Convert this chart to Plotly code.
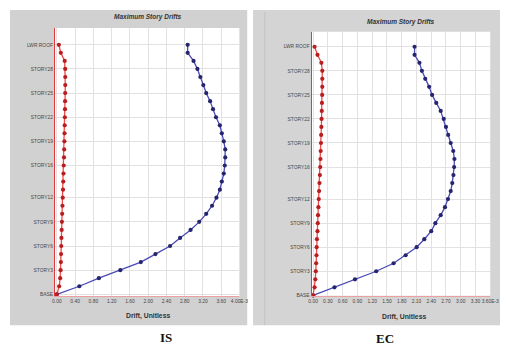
import plotly.graph_objects as go

# ---------------- data ----------------
story_level = list(range(32))  # 0 = base ... 31 = lower roof
tick_levels = [0, 3, 6, 9, 12, 16, 19, 22, 25, 28, 31]
tick_names = ["BASE", "STORY3", "STORY6", "STORY9", "STORY12", "STORY16",
              "STORY19", "STORY22", "STORY25", "STORY28", "LWR ROOF"]

# drifts, in units of 1e-3
is_drift_x = [0, 0.492, 0.920, 1.390, 1.840, 2.160, 2.481, 2.700, 2.930, 3.120,
              3.273, 3.401, 3.497, 3.572, 3.615, 3.658, 3.679, 3.690, 3.690, 3.658,
              3.615, 3.572, 3.487, 3.422, 3.358, 3.273, 3.209, 3.144, 3.080, 2.995,
              2.866, 2.866]
is_drift_y = [0, 0.050, 0.072, 0.082, 0.088, 0.092, 0.096, 0.100, 0.105, 0.110,
              0.116, 0.122, 0.128, 0.134, 0.140, 0.145, 0.150, 0.156, 0.160, 0.165,
              0.168, 0.172, 0.175, 0.178, 0.180, 0.182, 0.184, 0.184, 0.182, 0.171,
              0.086, 0.043]
ec_drift_x = [0, 0.434, 0.851, 1.283, 1.636, 1.881, 2.104, 2.260, 2.400, 2.485,
              2.593, 2.680, 2.741, 2.797, 2.828, 2.852, 2.866, 2.872, 2.848, 2.797,
              2.745, 2.700, 2.655, 2.593, 2.503, 2.418, 2.358, 2.279, 2.211, 2.161,
              2.062, 2.062]
ec_drift_y = [0, 0.030, 0.045, 0.055, 0.062, 0.069, 0.072, 0.078, 0.089, 0.095,
              0.100, 0.108, 0.115, 0.122, 0.130, 0.138, 0.145, 0.150, 0.155, 0.160,
              0.164, 0.168, 0.172, 0.176, 0.180, 0.184, 0.187, 0.187, 0.187, 0.168,
              0.089, 0.030]

is_xticks = [0, 0.4, 0.8, 1.2, 1.6, 2.0, 2.4, 2.8, 3.2, 3.6, 4.0]
is_xlabels = ["0.00", "0.40", "0.80", "1.20", "1.60", "2.00", "2.40", "2.80",
              "3.20", "3.60", "4.00E-3"]
ec_xticks = [0, 0.3, 0.6, 0.9, 1.2, 1.5, 1.8, 2.1, 2.4, 2.7, 3.0, 3.3, 3.6]
ec_xlabels = ["0.00", "0.30", "0.60", "0.90", "1.20", "1.50", "1.80", "2.10",
              "2.40", "2.70", "3.00", "3.30", "3.60E-3"]

# ---------------- figure ----------------
OFF = 8                     # page body margin
W, H = 509 - OFF, 349 - OFF
def px(x):
    return (x - OFF) / W
def py(y):
    return 1 - (y - OFF) / H

BLUE_L, BLUE_M = "#4a4ab8", "#25256e"
RED_L, RED_M = "#ee4a4a", "#b81e1e"

fig = go.Figure()
for drift, col_l, col_m, xa, ya in [
    (is_drift_x, BLUE_L, BLUE_M, "x", "y"),
    (is_drift_y, RED_L, RED_M, "x", "y"),
    (ec_drift_x, BLUE_L, BLUE_M, "x2", "y2"),
    (ec_drift_y, RED_L, RED_M, "x2", "y2"),
]:
    fig.add_trace(go.Scatter(
        x=drift, y=story_level, mode="lines+markers", xaxis=xa, yaxis=ya,
        line=dict(color=col_l, width=1.3),
        marker=dict(color=col_m, size=4.2, line=dict(width=0)),
        showlegend=False, cliponaxis=False))

tickfont = dict(family="Liberation Sans", size=4.9, color="#444444")
grid = "#e2e2e2"

common_x = dict(showgrid=True, gridcolor=grid, gridwidth=1, zeroline=False,
                showline=True, linecolor="#eaa0a0", linewidth=1, ticks="",
                tickfont=tickfont, tickangle=0, fixedrange=True)
common_y = dict(showgrid=True, gridcolor=grid, gridwidth=1, zeroline=False,
                showline=True, linecolor="#e23a3a", linewidth=1, ticks="",
                tickfont=tickfont, fixedrange=True)

fig.update_layout(
    width=W, height=H, margin=dict(l=0, r=0, t=0, b=0),
    paper_bgcolor="white", plot_bgcolor="rgba(0,0,0,0)",
    xaxis=dict(domain=[px(53), px(242)], range=[-0.043, 4.0], tickvals=is_xticks,
               ticktext=is_xlabels, anchor="y", **common_x),
    yaxis=dict(domain=[py(298), py(28)], range=[-0.247, 33.1], tickvals=tick_levels,
               ticktext=tick_names, anchor="x", **common_y),
    xaxis2=dict(domain=[px(316), px(499)], range=[-0.03, 3.6], tickvals=ec_xticks,
                ticktext=ec_xlabels, anchor="y2", **common_x),
    yaxis2=dict(domain=[py(297.5), py(32)], range=[-0.06, 32.86], tickvals=tick_levels,
                ticktext=tick_names, anchor="x2", **common_y),
)

shapes = [
    dict(type="rect", xref="paper", yref="paper", x0=px(7), x1=px(250), y0=py(327), y1=py(10),
         fillcolor="#d1d1d1", line=dict(width=0), layer="below"),
    dict(type="rect", xref="paper", yref="paper", x0=px(256), x1=px(509), y0=py(327), y1=py(10),
         fillcolor="#d4d4d4", line=dict(width=0), layer="below"),
    dict(type="line", xref="paper", yref="paper", x0=px(268), x1=px(268), y0=py(327), y1=py(12),
         line=dict(color="#c2c2c2", width=1), layer="below"),
    dict(type="rect", xref="paper", yref="paper", x0=px(53), x1=px(242), y0=py(298), y1=py(28),
         fillcolor="white", line=dict(width=0), layer="below"),
    dict(type="rect", xref="paper", yref="paper", x0=px(316), x1=px(499), y0=py(297.5), y1=py(32),
         fillcolor="white", line=dict(width=0), layer="below"),
]
fig.update_layout(shapes=shapes)

title_font = dict(family="Liberation Sans", size=6.5, color="#333333")
ann = [
    dict(x=px(148), y=py(17), text="<b><i>Maximum Story Drifts</i></b>", font=title_font),
    dict(x=px(408), y=py(22), text="<b><i>Maximum Story Drifts</i></b>", font=title_font),
    dict(x=px(148), y=py(318), text="<b>Drift, Unitless</b>",
         font=dict(family="Liberation Sans", size=6.8, color="#333333")),
    dict(x=px(411), y=py(319), text="<b>Drift, Unitless</b>",
         font=dict(family="Liberation Sans", size=6.8, color="#333333")),
    dict(x=px(167), y=py(339), text="<b>IS</b>",
         font=dict(family="Liberation Serif", size=13, color="#111111")),
    dict(x=px(391), y=py(340), text="<b>EC</b>",
         font=dict(family="Liberation Serif", size=13, color="#111111")),
]
for a in ann:
    a.update(xref="paper", yref="paper", showarrow=False, xanchor="center", yanchor="middle")
fig.update_layout(annotations=ann)

fig.write_html("out.html")
